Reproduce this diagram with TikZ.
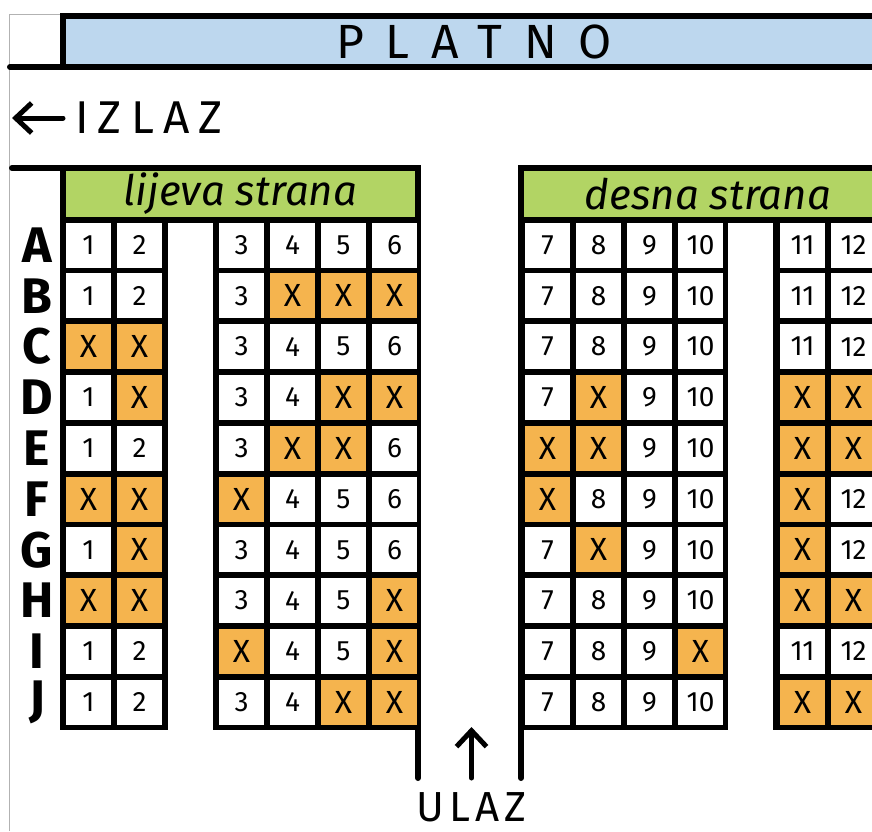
\documentclass[tikz,border=0pt]{standalone}
\usepackage{fontspec}
\setmainfont{Fira Sans}
\usepackage{xcolor}
\usepackage{tikz}
\usetikzlibrary{arrows.meta,positioning}

\definecolor{screenblue}{RGB}{189,215,238}
\definecolor{sidegreen}{RGB}{178,212,100}
\definecolor{seatorange}{RGB}{245,180,78}

\begin{document}
\begin{tikzpicture}[
  x=1pt, y=-1pt,
  wall/.style    ={line width=6pt, line cap=round},
  screen/.style  ={rectangle, draw, line width=6pt, outer sep=0pt, fill=screenblue,
                   minimum width=822pt, minimum height=51pt,
                   font=\fontsize{48}{48}\selectfont\addfontfeature{LetterSpace=45}},
  side/.style    ={rectangle, draw, line width=6pt, outer sep=0pt, fill=sidegreen,
                   minimum height=52pt, font=\itshape\fontsize{42}{42}\selectfont},
  free/.style    ={rectangle, fill=white, minimum size=45pt, inner sep=0pt,
                   font=\fontsize{28}{28}\selectfont},
  taken/.style   ={free, fill=seatorange, font=\fontsize{32}{32}\selectfont},
  rowlabel/.style={font=\bfseries\fontsize{50}{50}\selectfont},
  sign/.style    ={inner sep=0pt, font=\fontsize{46}{46}\selectfont\addfontfeature{LetterSpace=20}},
  arr/.style     ={-{Straight Barb[length=16pt,width=30pt]}, line width=5pt, line cap=round}
]
  \useasboundingbox (0,0) rectangle (872,831);
  \clip (0,0) rectangle (872,831);
  \draw[gray!60, line width=1pt] (9,831) -- (9,14) -- (63,14);

  % screen and exit
  \node[screen] (platno) at (474,41.5) {PLATNO};
  \draw[wall] (10,67) -- (platno.south west);
  \node[sign, anchor=west] (izlaz) at (75,118) {IZLAZ};
  \coordinate (exit) at (12,118);
  \draw[arr, shorten <=12pt] (izlaz.west) -- (exit);

  % seat blocks
  \fill (60,217)  rectangle (168,730);
  \fill (213,217) rectangle (421,730);
  \fill (518,217) rectangle (728,730);
  \fill (773,217) rectangle (890,730);

  \node[side, minimum width=355pt] (lijeva) at (240.5,194) {lijeva strana};
  \node[side, minimum width=374pt] (desna)  at (708,194)   {desna strana};
  \draw[wall] (12,168) -- (lijeva.north west);
  \draw[wall] (lijeva.north east) -- (418,778);
  \draw[wall] (desna.north west)  -- (521,778);

  % seats: 1 = taken
  \foreach \row/\seats [count=\r from 0] in {
    A/{0,0,0,0,0,0,0,0,0,0,0,0},
    B/{0,0,0,1,1,1,0,0,0,0,0,0},
    C/{1,1,0,0,0,0,0,0,0,0,0,0},
    D/{0,1,0,0,1,1,0,1,0,0,1,1},
    E/{0,0,0,1,1,0,1,1,0,0,1,1},
    F/{1,1,1,0,0,0,1,0,0,0,1,0},
    G/{0,1,0,0,0,0,0,1,0,0,1,0},
    H/{1,1,0,0,0,1,0,0,0,0,1,1},
    I/{0,0,1,0,0,1,0,0,0,1,0,0},
    J/{0,0,0,0,1,1,0,0,0,0,1,1}}{
    \pgfmathsetmacro\cy{245+50.8*\r}
    \node[rowlabel] (row-\row) at (37,\cy) {\row};
    \foreach \st [count=\s] in \seats {
      \pgfmathsetmacro\cx{88.5+51*(\s-1+(\s>2)+2*(\s>6)+(\s>10))}
      \ifnum\st=1
        \node[taken] (\row-\s) at (\cx,\cy) {X};
      \else
        \node[free] (\row-\s) at (\cx,\cy) {\s};
      \fi
    }
  }

  % entrance
  \node[sign, anchor=north, font=\fontsize{42}{42}\selectfont\addfontfeature{LetterSpace=12}]
    (ulaz) at (471.5,792) {ULAZ};
  \coordinate (entry) at (471.5,727);
  \draw[arr, shorten <=14pt] (ulaz.north) -- (entry);
\end{tikzpicture}
\end{document}
